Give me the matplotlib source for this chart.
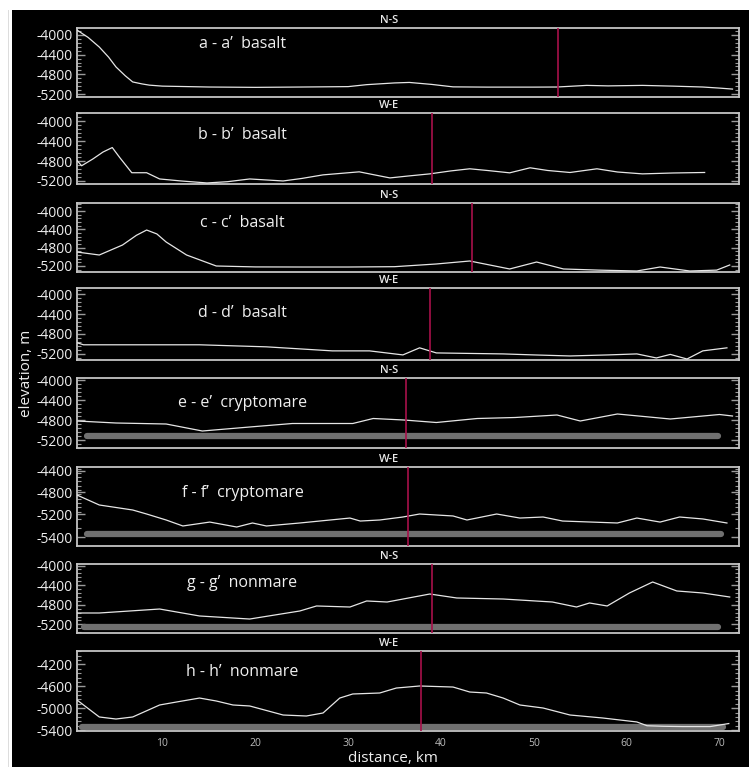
import numpy as np
import matplotlib
matplotlib.use("Agg")
import matplotlib.pyplot as plt
from matplotlib.ticker import FixedLocator, AutoMinorLocator
from matplotlib.patches import Rectangle

plt.rcParams['font.family'] = ['Open Sans', 'DejaVu Sans']

# profile data, distance km / elevation m
dist_a = [0.8, 2.0, 3.2, 4.2, 5.0, 6.0, 6.8, 7.8, 8.6, 10, 15, 20, 25, 30, 32, 35, 36.6, 39, 41.3, 45, 50, 52.5, 55.7, 58, 61.7, 65, 68.2, 70, 71.4]
elev_a = [-3900, -4050, -4245, -4450, -4650, -4830, -4955, -4995, -5020, -5040, -5058, -5065, -5058, -5050, -5010, -4975, -4965, -5005, -5055, -5060, -5060, -5058, -5025, -5035, -5025, -5040, -5058, -5080, -5100]

dist_b = [0.8, 1.3, 2.5, 3.6, 4.6, 5.4, 6.7, 8.3, 9.7, 12, 14.8, 17, 19.4, 23, 25, 27.3, 31.2, 32.3, 34.5, 36.5, 38.8, 41, 43.1, 45, 47.4, 49.6, 51.5, 53.9, 56.8, 59, 61.7, 65, 68.4]
elev_b = [-4790, -4895, -4760, -4620, -4530, -4730, -5035, -5035, -5160, -5200, -5240, -5215, -5160, -5200, -5150, -5078, -5017, -5058, -5139, -5100, -5058, -5000, -4956, -4990, -5037, -4936, -4990, -5030, -4956, -5020, -5058, -5040, -5030]

dist_c = [0.8, 3.2, 5.7, 7.2, 8.3, 9.4, 10.4, 12.6, 15.8, 20, 25, 30, 35, 39.5, 43.1, 45.3, 47.4, 50.3, 53.2, 57, 61.1, 63.6, 66.8, 69.7, 71.1]
elev_c = [-4895, -4960, -4742, -4530, -4415, -4500, -4676, -4960, -5200, -5220, -5222, -5222, -5215, -5156, -5091, -5180, -5265, -5113, -5265, -5290, -5309, -5222, -5309, -5290, -5178]

dist_d = [0.8, 1.5, 7, 14, 21.2, 28.3, 32.3, 35.9, 37.7, 39.5, 43, 46.7, 50, 53.9, 58, 61.1, 63.2, 64.7, 66.5, 68.2, 70.8]
elev_d = [-4976, -5017, -5017, -5017, -5058, -5139, -5139, -5220, -5078, -5180, -5190, -5200, -5220, -5241, -5220, -5200, -5281, -5210, -5302, -5139, -5078]

dist_e = [0.8, 5.0, 10.4, 14.3, 19.4, 24.0, 30.5, 32.7, 36, 39.5, 43.9, 48, 52.5, 55.0, 59.0, 64.7, 70.0, 71.4]
elev_e = [-4820, -4860, -4880, -5020, -4940, -4870, -4870, -4770, -4800, -4850, -4770, -4750, -4700, -4820, -4680, -4780, -4690, -4720]

dist_f = [0.8, 3.2, 6.8, 8.3, 10.4, 12.2, 15.1, 18.0, 19.7, 21.2, 24.8, 30.2, 31.3, 33.4, 35.9, 37.7, 41.3, 42.8, 46.0, 48.5, 51.0, 53.1, 59.0, 61.1, 63.6, 65.7, 68.2, 70.8]
elev_f = [-4855, -5036, -5127, -5200, -5252, -5304, -5270, -5313, -5278, -5304, -5278, -5235, -5261, -5252, -5226, -5200, -5217, -5252, -5200, -5235, -5226, -5261, -5278, -5235, -5270, -5226, -5243, -5278]

dist_g = [0.8, 3.2, 9.7, 14.0, 19.4, 24.8, 26.6, 30.2, 32.0, 34.2, 38.8, 41.7, 46.7, 52.0, 54.6, 56.0, 57.9, 60.3, 62.8, 65.4, 68.2, 71.1]
elev_g = [-4967, -4967, -4886, -5028, -5090, -4926, -4824, -4845, -4722, -4743, -4580, -4661, -4682, -4743, -4845, -4763, -4824, -4559, -4335, -4518, -4559, -4641]

dist_h = [0.8, 3.2, 5.0, 6.8, 9.7, 11.5, 14.0, 15.8, 17.6, 19.4, 23.0, 25.5, 27.3, 29.1, 30.5, 33.4, 35.2, 37.7, 41.3, 43.1, 44.9, 46.7, 48.5, 51.0, 53.9, 57.4, 61.1, 62.2, 64.0, 66.0, 69.0, 71.0]
elev_h = [-4850, -5160, -5197, -5160, -4941, -4887, -4814, -4868, -4941, -4959, -5124, -5142, -5087, -4814, -4740, -4722, -4631, -4594, -4613, -4704, -4722, -4814, -4941, -4996, -5124, -5178, -5251, -5320, -5330, -5335, -5335, -5280]

profiles = [(dist_a, elev_a), (dist_b, elev_b), (dist_c, elev_c), (dist_d, elev_d),
            (dist_e, elev_e), (dist_f, elev_f), (dist_g, elev_g), (dist_h, elev_h)]

labels = ["a - a’  basalt", "b - b’  basalt", "c - c’  basalt", "d - d’  basalt",
          "e - e’  cryptomare", "f - f’  cryptomare", "g - g’  nonmare", "h - h’  nonmare"]
directions = ["N-S", "W-E", "N-S", "W-E", "N-S", "W-E", "N-S", "W-E"]
marker_km = [52.6, 39.0, 43.3, 38.8, 36.2, 36.5, 39.0, 37.9]

# gray reference bars (only e-h)
bar_level = [None, None, None, None, -5120, -5374, -5253, -5340]
bar_from = [None, None, None, None, 1.9, 1.9, 1.6, 1.3]
bar_to = [None, None, None, None, 69.8, 70.2, 69.8, 70.4]

yticks = [[-4000, -4400, -4800, -5200]] * 5 + [[-4400, -4800, -5200, -5400],
                                               [-4000, -4400, -4800, -5200],
                                               [-4200, -4600, -5000, -5400]]
xticks = [10, 20, 30, 40, 50, 60, 70]

# panel f has an uneven elevation axis in the original (piecewise linear)
f_knots = np.array([-5600.0, -5400.0, -5200.0, -4800.0, -4400.0, -4000.0])
f_pos = np.array([-546.0 - 14.0, -537.0, -514.0, -492.0, -471.0, -450.0])


def f_fwd(v):
    return np.interp(v, f_knots, f_pos)


def f_inv(p):
    return np.interp(p, f_pos, f_knots)


W, H = 749, 767
fig = plt.figure(figsize=(W / 100, H / 100), dpi=100, facecolor='white')
fig.patches.append(Rectangle((12 / W, 0), 1 - 12 / W, 1 - 10 / H, transform=fig.transFigure,
                             facecolor='black', edgecolor='none', zorder=-10))
fig.patches.append(Rectangle((8 / W, 0), 0.0015, 1 - 10 / H, transform=fig.transFigure,
                             facecolor='#dddddd', edgecolor='none', zorder=-10))

# panel pixel extents (top, bottom) and y limits
boxes = [(28, 97), (113, 184), (203, 272), (288, 360), (378, 448), (467, 546), (564, 633), (651, 731)]
ylims = [(-5261, -3858), (-5261, -3837), (-5331, -3825), (-5322, -3878),
         (-5360, -3960), (-5478, -4324), (-5375, -3968), (-5416, -3955)]
x0, x1 = 77, 739
frame = '#c4c4c4'

for i in range(8):
    top, bot = boxes[i]
    ax = fig.add_axes([x0 / W, 1 - bot / H, (x1 - x0) / W, (bot - top) / H])
    ax.set_facecolor('black')
    if i == 5:
        ax.set_yscale('function', functions=(f_fwd, f_inv))
    ax.set_xlim(0.8, 72.1)
    ax.set_ylim(*ylims[i])
    for s in ax.spines.values():
        s.set_color(frame)
        s.set_linewidth(1.3)

    d, e = profiles[i]
    if bar_level[i] is not None:
        ax.plot([bar_from[i], bar_to[i]], [bar_level[i]] * 2, color='#707070',
                linewidth=4.5, solid_capstyle='round', zorder=2)
    ax.plot(d, e, color='#e6e6e6', linewidth=0.9, zorder=3)
    ax.axvline(marker_km[i], color='#a8104a', linewidth=1.2, zorder=4)

    ax.text(0.25, [0.77, 0.69, 0.71, 0.65, 0.64, 0.67, 0.72, 0.74][i], labels[i],
            transform=ax.transAxes, color='#f0f0f0', fontsize=11.5,
            ha='center', va='center')
    ax.annotate(directions[i], xy=(0.471, 1.0), xycoords='axes fraction',
                xytext=(0, 1.5), textcoords='offset points', color='#e8e8e8',
                fontsize=8, fontweight='semibold', ha='center', va='bottom')

    ax.yaxis.set_major_locator(FixedLocator(yticks[i]))
    if i == 5:
        ax.yaxis.set_minor_locator(FixedLocator(np.arange(-5480, -4320, 80)))
    else:
        ax.yaxis.set_minor_locator(AutoMinorLocator(5))
    ax.tick_params(axis='y', which='both', direction='in', left=True, right=True,
                   color='#9a9a9a', labelcolor='#eeeeee', labelsize=10, pad=3)
    ax.tick_params(axis='y', which='major', length=6, width=1)
    ax.tick_params(axis='y', which='minor', length=3, width=0.8)
    ax.yaxis.set_minor_formatter(plt.NullFormatter())
    ax.set_yticklabels([str(v) for v in yticks[i]])

    ax.xaxis.set_major_locator(FixedLocator(xticks))
    if i == 7:
        ax.tick_params(axis='x', length=0, labelcolor='#bbbbbb', labelsize=7.5, pad=5)
        ax.set_xticklabels([str(v) for v in xticks])
    else:
        ax.tick_params(axis='x', length=0, labelbottom=False)

fig.text(27 / W, 1 - 373 / H, "elevation, m", rotation=90, color='#eeeeee',
         fontsize=11, ha='center', va='center')
fig.text(393 / W, 1 - 758 / H, "distance, km", color='#eeeeee',
         fontsize=11, ha='center', va='center')

fig.savefig("out.png", dpi=100, facecolor='white')
